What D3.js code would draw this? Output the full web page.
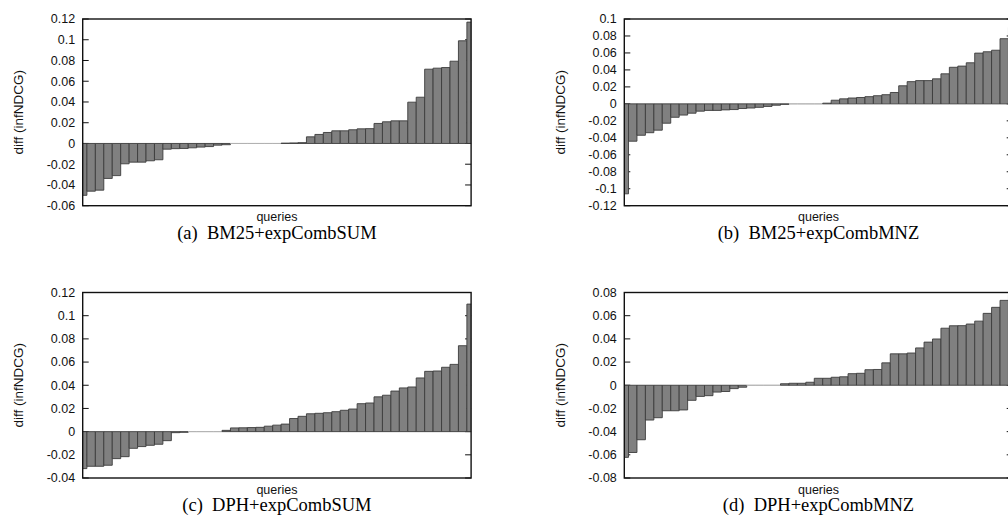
<!DOCTYPE html>
<html>
<head>
<meta charset="utf-8">
<script src="https://cdn.jsdelivr.net/npm/d3@7"></script>
<style>
  html, body { margin: 0; padding: 0; background: #fff; }
  svg { display: block; }
</style>
</head>
<body>
<svg id="chart" width="1008" height="520"></svg>
<script>
// ---- data (per-query differences, sorted) ----
const bm25SumValues = [-0.050,-0.046,-0.045,-0.0337,-0.031,-0.0196,-0.018,-0.018,-0.0167,-0.0157,
  -0.0055,-0.005,-0.0048,-0.0042,-0.0035,-0.003,-0.0016,-0.0012,0,0,0,0,0,0,0.0003,0.0005,0.0008,
  0.0064,0.0087,0.0106,0.0122,0.0122,0.0132,0.0141,0.0143,0.0193,0.0209,0.0218,0.0218,0.0398,
  0.0446,0.0716,0.0726,0.0732,0.0793,0.0990,0.117];
const bm25MnzValues = [-0.106,-0.044,-0.037,-0.034,-0.031,-0.0228,-0.0158,-0.0132,-0.011,-0.0086,
  -0.0077,-0.0077,-0.0071,-0.0067,-0.0055,-0.0049,-0.0041,-0.003,-0.0016,-0.0006,0,0,0,0,
  0.0008,0.0043,0.0059,0.0069,0.0075,0.0085,0.0096,0.0108,0.0134,0.0213,0.0262,0.0274,0.0274,
  0.0295,0.0354,0.0431,0.0445,0.0484,0.0598,0.0614,0.0632,0.0768,0.090];
const dphSumValues = [-0.0319,-0.0299,-0.0299,-0.029,-0.0233,-0.0216,-0.0144,-0.0129,-0.0118,-0.0109,
  -0.0078,-0.0009,-0.0006,0,0,0,0,0.0011,0.0032,0.0033,0.0035,0.0037,0.0047,0.0056,0.0065,0.0113,
  0.0132,0.0154,0.0158,0.0163,0.0172,0.0184,0.0195,0.0241,0.0247,0.030,0.0314,0.035,0.0377,0.0385,
  0.0463,0.052,0.0523,0.0555,0.058,0.0741,0.110];
const dphMnzValues = [-0.0622,-0.058,-0.047,-0.030,-0.028,-0.022,-0.022,-0.0213,-0.013,-0.0096,
  -0.009,-0.0059,-0.0054,-0.0029,-0.0017,0,0,0,0,0.0013,0.0017,0.0017,0.0026,0.006,0.006,0.0069,
  0.0073,0.010,0.0103,0.0134,0.0136,0.0193,0.0271,0.0271,0.0278,0.0322,0.0372,0.0399,0.0492,
  0.0513,0.0514,0.0528,0.0553,0.062,0.0672,0.0732,0.078];

const ticksA = ["-0.06","-0.04","-0.02","0","0.02","0.04","0.06","0.08","0.1","0.12"];
const ticksB = ["-0.12","-0.1","-0.08","-0.06","-0.04","-0.02","0","0.02","0.04","0.06","0.08","0.1"];
const ticksC = ["-0.04","-0.02","0","0.02","0.04","0.06","0.08","0.1","0.12"];
const ticksD = ["-0.08","-0.06","-0.04","-0.02","0","0.02","0.04","0.06","0.08"];

const captions = ["(a)  BM25+expCombSUM", "(b)  BM25+expCombMNZ", "(c)  DPH+expCombSUM", "(d)  DPH+expCombMNZ"];
const yTitle = "diff (infNDCG)";
const xTitle = "queries";

// ---- layout ----
const panels = [
  { values: bm25SumValues, ticks: ticksA, caption: captions[0], left: 82.7,  top: 19,    bottom: 205.7 },
  { values: bm25MnzValues, ticks: ticksB, caption: captions[1], left: 624.3, top: 19,    bottom: 205.7 },
  { values: dphSumValues,  ticks: ticksC, caption: captions[2], left: 82.7,  top: 292.5, bottom: 478 },
  { values: dphMnzValues,  ticks: ticksD, caption: captions[3], left: 624.3, top: 292.5, bottom: 478 }
];
const plotW = 388.4;

const svg = d3.select("#chart");
const sans = "'Liberation Sans', Arial, Helvetica, sans-serif";
const serif = "'Liberation Serif', 'Times New Roman', Times, serif";

panels.forEach((p, pi) => {
  const tickVals = p.ticks.map(Number);
  const n = p.values.length;
  const x = d3.scaleLinear().domain([0, n - 1]).range([p.left, p.left + plotW]);
  const y = d3.scaleLinear().domain([d3.min(tickVals), d3.max(tickVals)]).range([p.bottom, p.top]);
  const g = svg.append("g");

  const clipId = "clip" + pi;
  svg.append("clipPath").attr("id", clipId)
    .append("rect").attr("x", p.left).attr("y", p.top)
    .attr("width", plotW).attr("height", p.bottom - p.top);

  // tick marks (left and mirrored right), inward
  const tl = 6;
  g.selectAll("line.tl").data(tickVals).join("line")
    .attr("x1", p.left).attr("x2", p.left + tl)
    .attr("y1", d => y(d)).attr("y2", d => y(d))
    .attr("stroke", "#111").attr("stroke-width", 1);
  g.selectAll("line.tr").data(tickVals).join("line")
    .attr("x1", p.left + plotW).attr("x2", p.left + plotW - tl)
    .attr("y1", d => y(d)).attr("y2", d => y(d))
    .attr("stroke", "#111").attr("stroke-width", 1);

  // tick labels
  g.selectAll("text.tick").data(p.ticks).join("text")
    .attr("x", p.left - 7.5).attr("y", d => y(+d))
    .attr("dy", "0.35em")
    .attr("text-anchor", "end")
    .attr("font-family", sans).attr("font-size", 12.5).attr("fill", "#111")
    .text(d => d);

  // bars
  const bars = g.append("g").attr("clip-path", `url(#${clipId})`);
  bars.selectAll("path").data(p.values).join("path")
    .attr("d", (d, i) => {
      const x0 = x(i - 0.5), x1 = x(i + 0.5), y0 = y(0), y1 = y(d);
      return `M${x0},${y0}V${y1}H${x1}V${y0}Z`;
    })
    .attr("fill", "#808080")
    .attr("stroke", d => d === 0 ? "#b0b0b0" : "#3c3c3c")
    .attr("stroke-width", 0.9);

  // border
  g.append("rect")
    .attr("x", p.left).attr("y", p.top)
    .attr("width", plotW).attr("height", p.bottom - p.top)
    .attr("fill", "none").attr("stroke", "#111").attr("stroke-width", 1.4);

  // y title
  const cy = (p.top + p.bottom) / 2;
  g.append("text")
    .attr("transform", `translate(${p.left - 59.5},${cy}) rotate(-90)`)
    .attr("text-anchor", "middle")
    .attr("font-family", sans).attr("font-size", 13.5).attr("fill", "#111")
    .text(yTitle);

  // x title
  const cx = p.left + plotW / 2;
  g.append("text")
    .attr("x", cx).attr("y", p.bottom + 15.5)
    .attr("text-anchor", "middle")
    .attr("font-family", sans).attr("font-size", 12.5).attr("fill", "#111")
    .text(xTitle);

  // caption
  g.append("text")
    .attr("x", cx).attr("y", p.bottom + 33)
    .attr("text-anchor", "middle")
    .attr("font-family", serif).attr("font-size", 18.5).attr("fill", "#000")
    .attr("xml:space", "preserve").style("white-space", "pre")
    .text(p.caption);
});
</script>
</body>
</html>
